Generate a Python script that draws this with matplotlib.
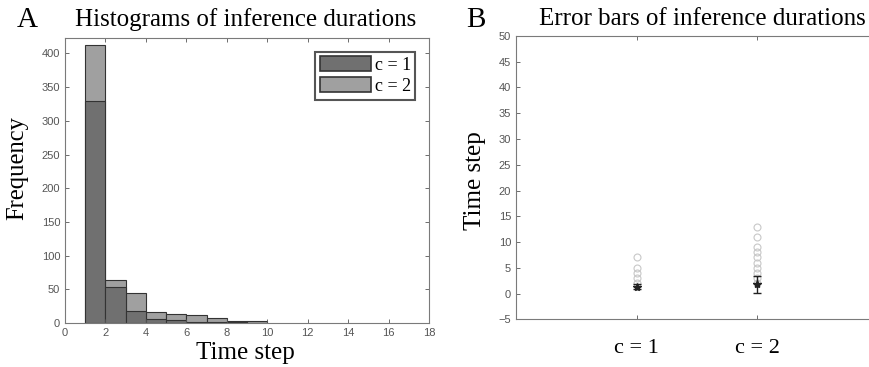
import matplotlib
matplotlib.use("Agg")
import matplotlib.pyplot as plt
from matplotlib.patches import Patch

# Istogramma: bordi dei bin e conteggi per le due condizioni
bin_edges = [1, 2, 3, 4, 5, 6, 7, 8, 9, 10]
counts_c1 = [329, 53, 18, 6, 5, 2, 1, 1, 0]
counts_c2 = [412, 64, 44, 16, 13, 12, 8, 3, 3]

# Barre di errore: medie, errori e outlier
groups = ["c = 1", "c = 2"]
means = [1.3, 1.8]
errors = [0.5, 1.6]
outliers_c1 = [2, 3, 4, 5, 7]
outliers_c2 = [2, 3, 4, 5, 6, 7, 8, 9, 11, 13]

serif = "Liberation Serif"
sans = "Liberation Sans"
tick_col = "#555555"
spine_col = "#7a7a7a"

fig = plt.figure(figsize=(8.69, 3.67), dpi=100)

# Pannello A
ax1 = fig.add_axes([0.0748, 0.1199, 0.4189, 0.7766])
widths = [bin_edges[i + 1] - bin_edges[i] for i in range(len(counts_c1))]
lefts = bin_edges[:-1]
ax1.bar(lefts, counts_c2, width=widths, align="edge", color="#a0a0a0",
        edgecolor="#333333", linewidth=0.8)
ax1.bar(lefts, counts_c1, width=widths, align="edge", color="#707070",
        edgecolor="#333333", linewidth=0.8)
ax1.set_xlim(0, 18)
ax1.set_ylim(0, 423)
ax1.set_xticks(range(0, 19, 2))
ax1.set_yticks(range(0, 401, 50))
ax1.tick_params(direction="in", top=True, right=True, labelsize=8,
                colors=tick_col, length=3, width=0.6)
for sp in ax1.spines.values():
    sp.set_color(spine_col)
for lab in ax1.get_xticklabels() + ax1.get_yticklabels():
    lab.set_fontfamily(sans)
handles = [Patch(facecolor="#707070", edgecolor="#333333", linewidth=1.2),
           Patch(facecolor="#a0a0a0", edgecolor="#333333", linewidth=1.2)]
leg = ax1.legend(handles, groups, loc="upper right", fancybox=False,
                 prop={"family": serif, "size": 13}, handlelength=2.85,
                 handleheight=0.9, handletextpad=0.2, borderpad=0.25,
                 labelspacing=0.2, borderaxespad=0.75, edgecolor="#555555",
                 framealpha=1)
leg.get_frame().set_linewidth(1.5)

fig.text(0.283, 0.948, "Histograms of inference durations", family=serif,
         fontsize=18, ha="center", va="center")
fig.text(0.282, 0.038, "Time step", family=serif, fontsize=18,
         ha="center", va="center")
fig.text(0.020, 0.542, "Frequency", family=serif, fontsize=17.7,
         ha="center", va="center", rotation=90)
fig.text(0.031, 0.946, "A", family=serif, fontsize=21, ha="center", va="center")

# Pannello B
ax2 = fig.add_axes([0.5938, 0.130, 0.4167, 0.772])
positions = [1, 2]
ax2.plot([1] * len(outliers_c1), outliers_c1, "o", mfc="none", mec="#c8c8c8",
         ms=5, mew=0.8)
ax2.plot([2] * len(outliers_c2), outliers_c2, "o", mfc="none", mec="#c8c8c8",
         ms=5, mew=0.8)
ax2.errorbar(positions, means, yerr=errors, fmt="none", ecolor="#222222",
             elinewidth=1.0, capsize=3, capthick=1.0)
ax2.plot(positions, means, "*", color="#222222", ms=6)
ax2.set_xlim(0, 3)
ax2.set_ylim(-5, 50)
ax2.set_xticks(positions)
ax2.set_xticklabels(groups, family=serif, fontsize=16, color="black")
ax2.set_yticks(range(-5, 51, 5))
ax2.tick_params(axis="y", direction="in", right=True, labelsize=8,
                colors=tick_col, length=3, width=0.6)
ax2.tick_params(axis="x", direction="in", top=True, length=3, width=0.6,
                color=tick_col, pad=14)
for lab in ax2.get_yticklabels():
    lab.set_fontfamily(sans)
for sp in ax2.spines.values():
    sp.set_color(spine_col)

fig.text(0.808, 0.948, "Error bars of inference durations", family=serif,
         fontsize=18, ha="center", va="center")
fig.text(0.547, 0.507, "Time step", family=serif, fontsize=18,
         ha="center", va="center", rotation=90)
fig.text(0.548, 0.946, "B", family=serif, fontsize=21, ha="center", va="center")

fig.savefig("out.png", dpi=100)
